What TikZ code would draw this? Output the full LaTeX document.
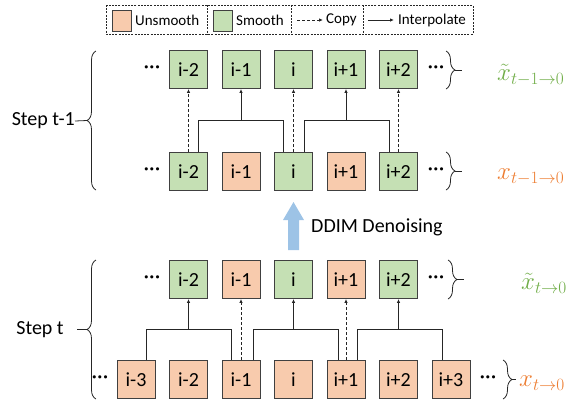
\documentclass[tikz,border=0pt]{standalone}
\usepackage{fontspec}
\setmainfont{Carlito}
\usetikzlibrary{arrows.meta,decorations.pathreplacing,positioning}
\definecolor{Unsmooth}{HTML}{F8CBAD}
\definecolor{Smooth}{HTML}{C5E0B4}
\definecolor{Edge}{HTML}{404040}
\definecolor{Ink}{HTML}{262626}
\definecolor{SmoothInk}{HTML}{70AD47}
\definecolor{UnsmoothInk}{HTML}{ED7D31}
\definecolor{Denoise}{HTML}{9DC3E6}
\begin{document}
\begin{tikzpicture}[x=1pt,y=-1pt,
  cell/.style={draw=Edge,line width=.9pt,minimum size=38pt,inner sep=0pt,font=\fontsize{20}{24}\selectfont},
  swatch/.style={draw=Edge,line width=.8pt,minimum width=19pt,minimum height=21pt,inner sep=0pt},
  keytext/.style={font=\fontsize{15}{18}\selectfont,inner sep=0pt,anchor=west},
  bigtext/.style={font=\fontsize{20}{24}\selectfont,inner sep=0pt},
  dotsnode/.style={font=\fontsize{22}{24}\selectfont,inner sep=0pt},
  copyarrow/.style={Ink,line width=.8pt,dash pattern=on 3pt off 2pt,-{Latex[length=4pt,width=3.5pt]}},
  interparrow/.style={Ink,line width=.8pt,-{Latex[length=4pt,width=3.5pt]}},
  pairline/.style={Ink,line width=.8pt},
  keyline/.style={Ink,line width=.8pt,dash pattern=on 2pt off 1.2pt},
  sidebrace/.style={Ink,line width=.8pt,decorate,decoration={brace,amplitude=9pt}},
  steplabel/.style={font=\fontsize{27}{30}\selectfont,inner sep=0pt,anchor=west}]
\useasboundingbox (0,0) rectangle (571,400);
% legend
\draw[keyline] (106,5) rectangle (473,34);
\foreach \x in {207,291,363}{\draw[keyline] (\x,5)--(\x,34);}
\node[swatch,fill=Unsmooth] (keyU) at (122,21) {};
\node[keytext] (keyUt) at (135,20) {Unsmooth};
\node[swatch,fill=Smooth] (keyS) at (223,21) {};
\node[keytext] (keySt) at (236,20) {Smooth};
\coordinate (copyA) at (297,20);
\coordinate (copyB) at (323,20);
\draw[copyarrow] (copyA) -- (copyB);
\node[keytext] (keyCt) at (326,20) {Copy};
\coordinate (interpA) at (368,20);
\coordinate (interpB) at (394,20);
\draw[interparrow] (interpA) -- (interpB);
\node[keytext] (keyIt) at (398,20) {Interpolate};
% cells, step t-1
\foreach \n/\k/\lab in {m2/-2/i-2,m1/-1/i-1,0/0/i,p1/1/i+1,p2/2/i+2}{
  \node[cell,fill=Smooth] (a\n) at ({293.5+52.5*\k},69.5) {\lab};}
\foreach \n/\k/\lab/\fc in {m2/-2/i-2/Smooth,m1/-1/i-1/Unsmooth,0/0/i/Smooth,p1/1/i+1/Unsmooth,p2/2/i+2/Smooth}{
  \node[cell,fill=\fc] (b\n) at ({293.5+52.5*\k},171.5) {\lab};
  \node[cell,fill=\fc] (c\n) at ({293.5+52.5*\k},279.5) {\lab};}
% cells, step t
\foreach \n/\k/\lab in {m3/-3/i-3,m2/-2/i-2,m1/-1/i-1,0/0/i,p1/1/i+1,p2/2/i+2,p3/3/i+3}{
  \node[cell,fill=Unsmooth] (d\n) at ({293.5+52.5*\k},379.5) {\lab};}
% dots
\node[dotsnode] (dotsA1) at (152,69.5) {···};
\node[dotsnode] (dotsA2) at (436,69.5) {···};
\node[dotsnode] (dotsB1) at (152,171.5) {···};
\node[dotsnode] (dotsB2) at (436,171.5) {···};
\node[dotsnode] (dotsC1) at (152,279.5) {···};
\node[dotsnode] (dotsC2) at (436,279.5) {···};
\node[dotsnode] (dotsD1) at (100,379.5) {···};
\node[dotsnode] (dotsD2) at (488,379.5) {···};
% connectors, step t-1
\coordinate (hA) at (0,120);
\draw[copyarrow] (bm2) -- (am2);
\draw[copyarrow] (b0) -- (a0);
\draw[copyarrow] (bp2) -- (ap2);
\draw[pairline] ([xshift=10pt]bm2.north) -- ++(0,-32) -| ([xshift=-10pt]b0.north);
\draw[pairline] ([xshift=11pt]b0.north) -- ++(0,-32) -| ([xshift=-9pt]bp2.north);
\draw[interparrow] (am1 |- hA) -- (am1);
\draw[interparrow] (ap1 |- hA) -- (ap1);
% connectors, step t
\coordinate (hB) at (0,329);
\draw[copyarrow] (dm1) -- (cm1);
\draw[copyarrow] (dp1) -- (cp1);
\draw[pairline] ([xshift=10pt]dm3.north) -- ++(0,-31) -| ([xshift=-10pt]dm1.north);
\draw[pairline] ([xshift=12pt]dm1.north) -- ++(0,-31) -| ([xshift=-8pt]dp1.north);
\draw[pairline] ([xshift=11pt]dp1.north) -- ++(0,-31) -| ([xshift=-9pt]dp3.north);
\draw[interparrow] (cm2 |- hB) -- (cm2);
\draw[interparrow] (c0 |- hB) -- (c0);
\draw[interparrow] (cp2 |- hB) -- (cp2);
% denoising arrow
\fill[Denoise] (288,250) -- (288,220) -- (283,220) -- (293.5,202) -- (304,220) -- (299,220) -- (299,250) -- cycle;
\node[bigtext,anchor=west] (ddim) at (311,227) {DDIM Denoising};
% left braces
\draw[sidebrace] (96,190) -- (96,51);
\draw[sidebrace] (96,399) -- (96,260);
\node[bigtext,anchor=east] (stepA) at (75,121) {Step t-1};
\coordinate (tipA) at (87,120.5);
\draw[pairline] (stepA.east) -- (tipA);
\node[bigtext] (stepB) at (40,330) {Step t};
\coordinate (dashB) at (77,329.5);
\coordinate (tipB) at (87,329.5);
\draw[pairline] (dashB) -- (tipB);
% right braces
\draw[sidebrace] (446,51) -- (446,89);
\draw[sidebrace] (446,152) -- (446,190);
\draw[sidebrace] (448,260) -- (448,299);
\draw[sidebrace] (503,360) -- (503,399);
\coordinate (tipR1) at (455,70);
\coordinate (tipR2) at (455,171);
\coordinate (tipR3) at (457,279.5);
\coordinate (tipR4) at (512,379.5);
\draw[pairline] (tipR1) -- ++(7,0);
\draw[pairline] (tipR2) -- ++(7,0);
\draw[pairline] (tipR3) -- ++(7,0);
\draw[pairline] (tipR4) -- ++(4,0);
% labels
\node[steplabel,text=SmoothInk] (labA) at (497,75) {$\tilde{x}_{t-1\to0}$};
\node[steplabel,text=UnsmoothInk] (labB) at (497,177) {$x_{t-1\to0}$};
\node[steplabel,text=SmoothInk] (labC) at (521,283) {$\tilde{x}_{t\to0}$};
\node[steplabel,text=UnsmoothInk] (labD) at (519,383) {$x_{t\to0}$};
\end{tikzpicture}
\end{document}
